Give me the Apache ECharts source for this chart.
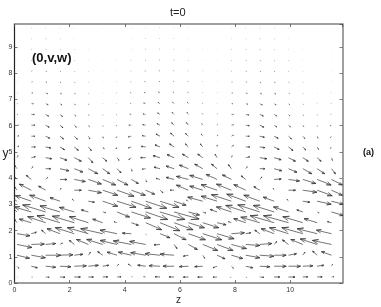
<!DOCTYPE html>
<html><head><meta charset="utf-8">
<script src="https://cdn.jsdelivr.net/npm/echarts@6/dist/echarts.min.js"></script>
<style>html,body{margin:0;padding:0;background:#fff}#c{width:381px;height:307px}</style>
</head><body><div id="c"></div>
<script>
const zGrid=[0.09,0.61,1.13,1.65,2.17,2.68,3.2,3.72,4.24,4.76,5.28,5.79,6.31,6.83,7.35,7.87,8.39,8.9,9.42,9.94,10.46,10.98,11.5];
const yGrid=[0.23,0.64,1.06,1.47,1.88,2.3,2.71,3.12,3.54,3.95,4.36,4.78,5.19,5.6,6.02,6.43,6.84,7.25,7.67,8.08,8.49,8.91,9.32,9.73];
const u0=[.5,1,3.5,5,6,5,5,4,1,-2,-5,-5,-5,-5,-4,-1,1,4,5.5,6.5,5,5,2.5];
const v0=[0,-.2,-.3,-.2,0,0,.2,.2,.3,.3,.2,0,-.2,-.2,-.3,-.5,-.5,-.3,0,0,.2,.2,.3];
const u1=[2,6,10,11,12,10,6,1.5,-3,-8,-11,-11,-9,-8,-4,2,7,10,12,12,10,6.5,1];
const v1=[-2,-1.5,-1,-.5,.5,1,1,2,2,1,.5,0,-.5,-.5,-1.5,-2,-1.5,-.5,0,0,.5,1,2];
const u2=[12.5,14,15,13,8.5,2,-5,-10,-13,-15,-15,-14,-5,2,8,11.5,14,14,12,8,2,-4.5,-10];
const v2=[-3,-2.5,0,.5,1,3,3.5,3,3,2.5,1.5,1,-1,-3,-3.5,-3.3,-2.5,-1,0,1.5,3,4,3.5];
const u3=[15,13,10,2.5,-5,-12,-16,-17,-18,-16,-6,3,9,15,16,15,14,12,2.5,-6,-12,-17,-19];
const v3=[-3,.5,1,1.5,4,5,5,4,3.5,3,-.5,-4,-5,-6,-6,-4,-1,1,3,4.5,5,5.5,4];
const u4=[13,5,-4,-13,-19,-21,-22,-17,-9,.5,10,12,17,19,17,13,5,-5,-13,-19,-21,-20,-15];
const v4=[-2,1.5,3.5,5,6,6,5,3.5,.5,-1,-4,-6,-6,-6,-5,1,1,3.5,5,6,6,5,3.5];
const u5=[-2,-12,-18,-23,-22,-19,-10,-3,7,16,20,19,16,16,9,-3,-12,-19,-24,-25,-20,-13,-4];
const v5=[3,3.5,6,7,6.5,6,3.5,1,-2.5,-7,-8,-7,-5,-5,-2,1,4,5.5,7,7,6,4,1];
const u6=[-4,-17,-23,-20,-15,-7,3,12.5,19,22,25,25,11,3,-7,-15,-20,-22,-21,-15,-6,2,12];
const v6=[4,5,7,6,4.5,2,-.7,-5,-6,-7.5,-7.5,-7,-3,-1,2.5,5,6.5,7,6.5,5,2,-1,-3.5];
const u7=[-3,-16,-16,-10,-2,6,15,19,20,21,19,12,-2,-15,-16,-20,-19,-16,-11,-1.5,7,14,12];
const v7=[2,5.5,6,3.5,2,-1,-5,-6,-7,-7,-6,-4,1,4,5,6.5,7,6,4,2,-1,-3,-3];
const u8=[-2,-12,-7,1,7,13,15,17,14,9,3,-4,-12,-13,-16,-15,-12,-6,-1,7,14,15,11];
const v8=[3,6,4,2,0,-2.5,-5,-6,-5,-4,-2.5,0,5,4,5.5,6,5.5,3.5,2,0,-2,-5.5,-5];
const u9=[-2,-5,2,7,11,13,13,11,7,1,-4,-8,-12,-13,-11,-9,-4.5,2,7,11,13,14,11];
const v9=[2,4,2,0,-2,-4.5,-5.5,-5.5,-4,-2.5,1,2,3,4,5,4.5,3.5,2.5,.5,-1.5,-4,-5.5,-5.5];
const u10=[-2,1.5,5,9,8.5,9.5,7,4,.7,-3.5,-6,-8,-9,-8,-5.5,-3,1.5,5,7.5,8.5,9,7.5,4];
const v10=[3,2,0,-2,-3.3,-5,-5,-4,-2.5,-.5,1.5,2.5,3.5,4.5,4.5,4,2,0,-2,-3.5,-5,-5,-5];
const u11=[1,4,6,7,7,4.5,4,2,-2.5,-5,-7,-7,-6,-5,-2,.7,4,7,7,7,5.5,4,1];
const v11=[2,1,-1,-2.5,-3.5,-5,-3.5,-2.7,-2,0,2,3,3.5,3.5,3.5,2,1,-1,-2,-3.5,-3.5,-3.5,-2.7];
const u12=[2,4,5,4.5,4,3,1.5,-1,-3,-4.5,-5,-4.5,-3,-2.5,0,2,4,5,5,4.5,3,1.5,-1];
const v12=[1,0,-1,-2.7,-3.3,-3.5,-2,-2,-1,.5,2,3,3,3,2,1.5,0,-.7,-2.5,-3.5,-3,-2.5,-1.5];
const u13=[2,3.5,4,3.5,3,1.5,.7,-1,-3,-3.5,-4,-3.5,-3,-1.5,.7,2,3.5,4.5,4,3,2,1,-1];
const v13=[.5,0,-2,-2.7,-3,-2.7,-2,-1.5,-.7,.5,2,3,2.7,2,1.3,1,0,-1,-2,-2.7,-2.3,-2,-1.3];
const u14=[1.5,3.5,3.5,3,2,1,.5,-1,-2.5,-3,-3,-2.5,-2,-1,.5,2,3.5,4,2.7,2,1,.3,-1.5];
const v14=[0,0,-2,-2.5,-2,-1.5,-1,-.7,0,.5,1.5,2.5,2.5,1.5,1,.5,-.5,-2,-1.7,-1.7,-1.5,-1,-.7];
const u15=[1,3,3,2.5,1.5,.7,.3,-.7,-1.5,-2.5,-2.5,-2,-1.5,-.7,.3,2,3,3.5,2.5,1.5,.7,.3,-.7];
const v15=[0,0,-1.7,-2,-1.7,-1,-.7,-.5,.3,.5,1.5,2,2,1,.7,0,-.5,-1.5,-1.5,-1.5,-1,-.7,.3];
const u16=[.7,2,2.5,2,1,.5,.3,-.5,-1,-2,-2,-1.5,-1,-.5,.3,1.5,2,2.5,2,1.2,.5,.3,-.5];
const v16=[0,0,-1,-1.3,-1.3,-1,-.3,0,.3,.7,1.3,1.5,1.5,.7,.3,0,-.5,-1.2,-1.2,-1,-.7,-.3,.3];
const u17=[.5,1.5,2,1.5,1,.3,.2,-.5,-1,-1.5,-1.5,-1,-.7,-.3,.2,1.2,1.5,1.7,1.5,1,.3,.2,-.3];
const v17=[0,0,-.7,-1,-1,-.5,-.2,.2,.3,.5,1,1,1,.5,.3,0,-.5,-1,-1,-.7,-.5,-.2,.3];
const u18=[.3,1,1.3,1,.7,.3,.1,-.3,-.7,-1,-1,-.7,-.5,-.2,.2,.8,1,1.2,1,.7,.3,.1,-.2];
const v18=[0,.2,-.4,-.7,-.7,-.4,-.2,.1,.2,.4,.7,.8,.7,.4,.2,0,-.3,-.7,-.7,-.5,-.4,-.2,.2];
const u19=[.3,.8,1,.8,.5,.2,.1,-.2,-.5,-.8,-.8,-.6,-.4,-.2,.2,.6,.8,1,.8,.5,.2,.1,-.2];
const v19=[0,.1,-.3,-.5,-.5,-.3,-.1,.1,.2,.3,.5,.6,.5,.3,.1,0,-.2,-.5,-.5,-.4,-.3,-.1,.1];
const u20=[.2,.6,.8,.6,.4,.2,.1,-.2,-.4,-.6,-.6,-.5,-.3,-.1,.1,.5,.6,.8,.6,.4,.2,.1,-.1];
const v20=[0,.1,-.2,-.4,-.4,-.2,-.1,.1,.2,.3,.4,.5,.4,.2,.1,0,-.2,-.4,-.4,-.3,-.2,-.1,.1];
const u21=[.2,.5,.6,.5,.3,.1,.1,-.1,-.3,-.5,-.5,-.4,-.2,-.1,.1,.4,.5,.6,.5,.3,.1,.1,-.1];
const v21=[0,.1,-.2,-.3,-.3,-.2,-.1,.1,.1,.2,.3,.4,.3,.2,.1,0,-.1,-.3,-.3,-.2,-.2,-.1,.1];
const u22=[.1,.4,.5,.4,.2,.1,.1,-.1,-.2,-.4,-.4,-.3,-.2,-.1,.1,.3,.4,.5,.4,.2,.1,.1,-.1];
const v22=[0,.1,-.1,-.2,-.2,-.1,-.1,.1,.1,.2,.2,.3,.2,.1,.1,0,-.1,-.2,-.2,-.2,-.1,-.1,.1];
const u23=[.1,.3,.4,.3,.2,.1,.1,-.1,-.2,-.3,-.3,-.2,-.1,-.1,.1,.2,.3,.4,.3,.2,.1,.1,-.1];
const v23=[0,.1,-.1,-.2,-.2,-.1,-.1,.1,.1,.1,.2,.2,.2,.1,.1,0,-.1,-.2,-.2,-.1,-.1,-.1,.1];
const xTicks=[0,2,4,6,8,10];
const yTicks=[0,1,2,3,4,5,6,7,8,9];

const uRows=[u0,u1,u2,u3,u4,u5,u6,u7,u8,u9,u10,u11,u12,u13,u14,u15,u16,u17,u18,u19,u20,u21,u22,u23];
const vRows=[v0,v1,v2,v3,v4,v5,v6,v7,v8,v9,v10,v11,v12,v13,v14,v15,v16,v17,v18,v19,v20,v21,v22,v23];
const data=[];
yGrid.forEach((y,r)=>zGrid.forEach((z,k)=>data.push([z,y,uRows[r][k],vRows[r][k]])));
// quiver scale: components are converted to axis units
const qz=1/27.55, qy=1/26.2;
const FONT='"Liberation Sans",Arial,sans-serif';
const DARK='#222', GREY='#808080';
function renderArrow(params,api){
  const z=api.value(0),y=api.value(1),u=api.value(2),v=api.value(3);
  const a=api.coord([z,y]), b=api.coord([z+u*qz,y+v*qy]);
  const dx=b[0]-a[0],dy=b[1]-a[1];
  const len=Math.sqrt(dx*dx+dy*dy);
  const bx=b[0]-0.3*dx,by=b[1]-0.3*dy;
  const nx=-dy*0.11,ny=dx*0.11;
  return {type:'polyline',shape:{points:[a,b,[bx+nx,by+ny],b,[bx-nx,by-ny]]},
    style:{stroke:'#3a3a3a',lineWidth:0.7,fill:null,opacity:Math.min(1,0.4+len/8)},silent:true};
}
function frameAxis(pos,color,w){
  return {position:pos,axisLine:{show:true,onZero:false,lineStyle:{color:color,width:w}},
    axisTick:{inside:true,length:3,lineStyle:{color:'#444',width:0.7}},splitLine:{show:false}};
}
const labelFmt=t=>(v=>t.indexOf(v)>=0?String(v):'');
const chart=echarts.init(document.getElementById('c'),null,{renderer:'canvas'});
chart.setOption({
  animation:false,backgroundColor:'#fff',
  title:{text:'t=0',left:165,top:2,textStyle:{fontFamily:FONT,fontSize:11,fontWeight:'normal',color:'#222'}},
  grid:{left:14.5,right:38.5,top:24,bottom:24,outerBoundsMode:'none',containLabel:false},
  xAxis:[
    Object.assign(frameAxis('bottom',GREY,1.5),{type:'value',min:0,max:11.9,interval:2,name:'z',nameLocation:'middle',nameGap:12,nameMoveOverlap:false,
      nameTextStyle:{fontFamily:FONT,fontSize:10,color:'#222'},
      axisLabel:{fontFamily:FONT,fontSize:7,color:'#333',margin:4,showMaxLabel:false,formatter:labelFmt(xTicks)}}),
    Object.assign(frameAxis('top',GREY,1.5),{type:'value',min:0,max:11.9,interval:2,axisLabel:{show:false}})
  ],
  yAxis:[
    Object.assign(frameAxis('left',DARK,1.2),{type:'value',min:0,max:9.88,interval:1,name:'y',nameLocation:'middle',nameGap:6,nameRotate:0,nameMoveOverlap:false,
      nameTextStyle:{fontFamily:FONT,fontSize:12,color:'#222',padding:[0,0,10,0]},
      axisLabel:{fontFamily:FONT,fontSize:7,color:'#333',margin:2,showMaxLabel:false,formatter:labelFmt(yTicks)}}),
    Object.assign(frameAxis('right',GREY,1.5),{type:'value',min:0,max:9.88,interval:1,axisLabel:{show:false}})
  ],
  graphic:[
    {type:'text',left:32,top:52,style:{text:'(0,v,w)',font:'bold 13px '+FONT,fill:'#111'}},
    {type:'text',left:363,top:148,style:{text:'(a)',font:'bold 9px '+FONT,fill:'#111'}}
  ],
  series:[{type:'custom',coordinateSystem:'cartesian2d',clip:true,encode:{x:0,y:1},data:data,renderItem:renderArrow,silent:true}]
});
</script></body></html>
